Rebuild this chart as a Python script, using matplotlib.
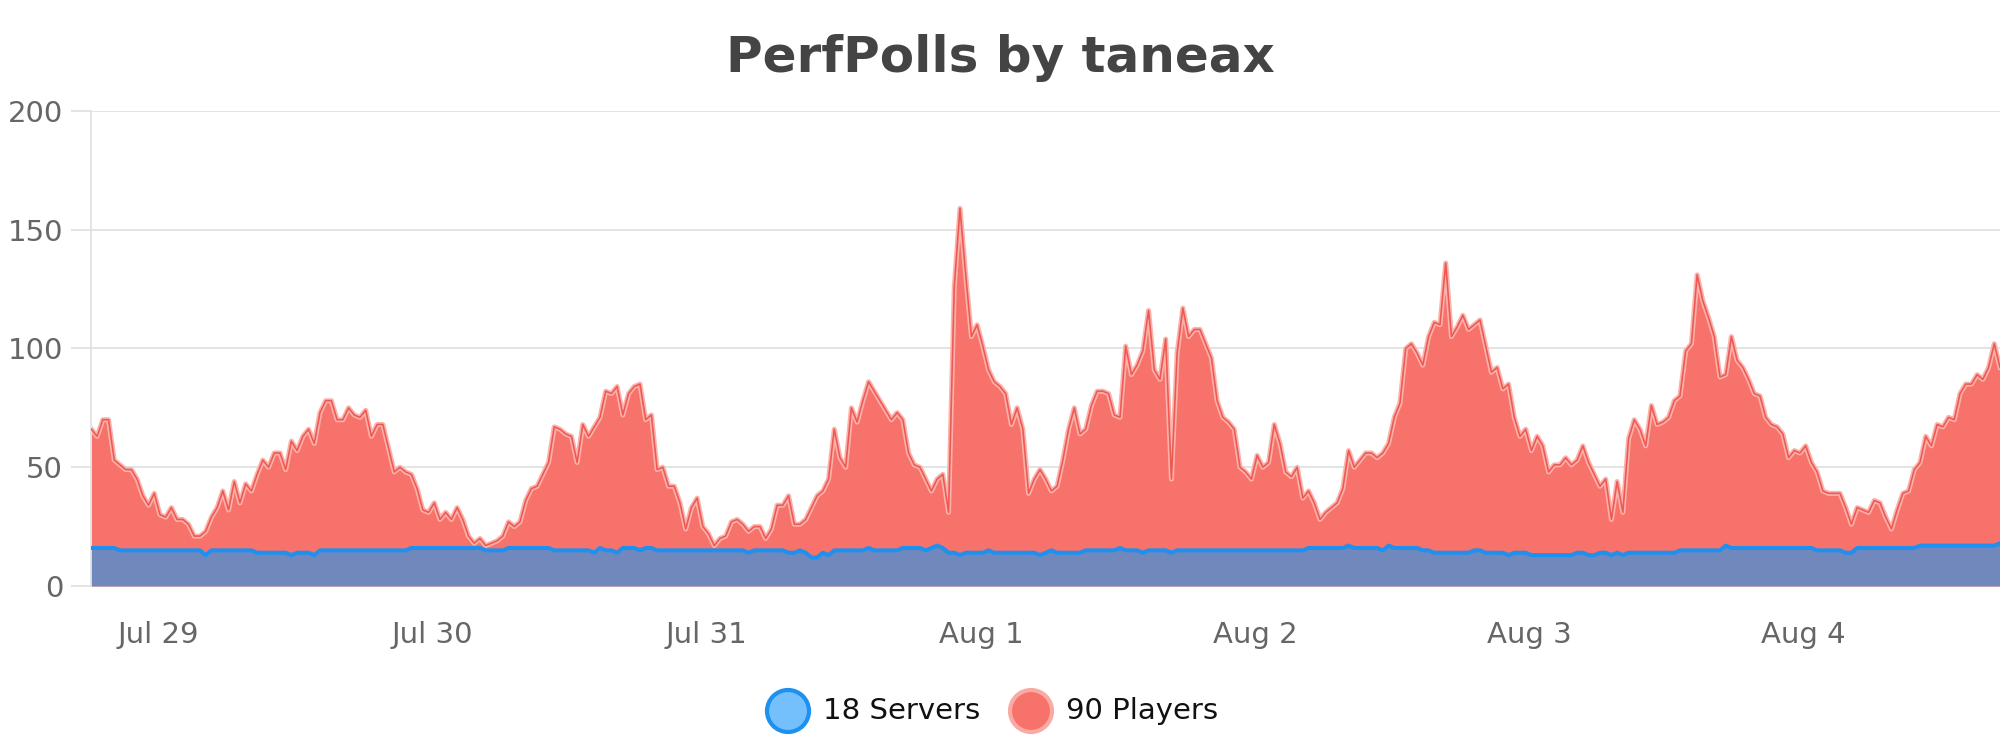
import matplotlib
matplotlib.use("Agg")
import matplotlib.pyplot as plt
import matplotlib.dates as mdates
from matplotlib.patches import Ellipse
import pandas as pd

title = "PerfPolls by taneax"
start_time = "2019-07-28 18:10"
step = "30min"

players = [
    66, 63, 70, 70, 53, 51, 49, 49, 45, 38, 34, 39, 30, 29, 33, 28, 28, 26, 21, 21,
    23, 29, 33, 40, 32, 44, 35, 43, 40, 47, 53, 50, 56, 56, 49, 61, 57, 63, 66, 60,
    73, 78, 78, 70, 70, 75, 72, 71, 74,
    63, 68, 68, 58, 48, 50, 48, 47, 41, 32, 31, 35, 28, 31, 28, 33, 28, 21, 18, 20,
    17, 18, 19, 21, 27, 25, 27, 36, 41, 42, 47, 52, 67, 66, 64, 63, 52, 68, 63, 67,
    71, 82, 81, 84, 72, 81, 84, 85, 70,
    72, 49, 50, 42, 42, 35, 24, 33, 37, 25, 22, 17, 20, 21, 27, 28, 26, 23, 25, 25,
    20, 24, 34, 34, 38, 26, 26, 28, 33, 38, 40, 45, 66, 54, 50, 75, 69, 78, 86, 82,
    78, 74, 70, 73, 70, 56, 51, 50,
    45, 40, 45, 47, 31, 126, 159, 131, 105, 110, 101, 91, 86, 84, 81, 68, 75, 66, 39, 45,
    49, 45, 40, 42, 53, 66, 75, 64, 66, 76, 82, 82, 81, 72, 71, 101, 89, 93, 99, 116,
    91, 87, 104, 45, 98, 117, 105, 108,
    108, 102, 96, 78, 71, 69, 66, 50, 48, 45, 55, 50, 52, 68, 60, 48, 46, 50, 37, 40,
    35, 28, 31, 33, 35, 41, 57, 50, 53, 56, 56, 54, 56, 60, 71, 77, 100, 102, 98, 93,
    105, 111, 110, 136, 105, 109, 114, 108, 110,
    112, 101, 90, 92, 83, 85, 71, 63, 66, 57, 63, 59, 48, 51, 51, 54, 51, 53, 59, 52,
    47, 42, 45, 28, 44, 31, 62, 70, 66, 59, 76, 68, 69, 71, 78, 80, 99, 102, 131, 120,
    113, 105, 88, 89, 105, 95, 92, 87,
    81, 80, 71, 68, 67, 64, 54, 57, 56, 59, 52, 48, 40, 39, 39, 39, 33, 26, 33, 32,
    31, 36, 35, 29, 24, 32, 39, 40, 49, 52, 63, 59, 68, 67, 71, 70, 81, 85, 85, 89,
    87, 92, 102, 92,
]

servers = [
    16, 16, 16, 16, 16, 15, 15, 15, 15, 15,
    15, 15, 15, 15, 15, 15, 15, 15, 15, 15,
    13, 15, 15, 15, 15, 15, 15, 15, 15, 14,
    14, 14, 14, 14, 14, 13, 14, 14, 14, 13,
    15, 15, 15, 15, 15, 15, 15, 15, 15, 15,
    15, 15, 15, 15, 15, 15, 16, 16, 16, 16,
    16, 16, 16, 16, 16, 16, 16, 16, 16, 15,
    15, 15, 15, 16, 16, 16, 16, 16, 16, 16,
    16, 15, 15, 15, 15, 15, 15, 15, 14, 16,
    15, 15, 14, 16, 16, 16, 15, 16, 16, 15,
    15, 15, 15, 15, 15, 15, 15, 15, 15, 15,
    15, 15, 15, 15, 15, 14, 15, 15, 15, 15,
    15, 15, 14, 14, 15, 14, 12, 12, 14, 13,
    15, 15, 15, 15, 15, 15, 16, 15, 15, 15,
    15, 15, 16, 16, 16, 16, 15, 16, 17, 16,
    14, 14, 13, 14, 14, 14, 14, 15, 14, 14,
    14, 14, 14, 14, 14, 14, 13, 14, 15, 14,
    14, 14, 14, 14, 15, 15, 15, 15, 15, 15,
    16, 15, 15, 15, 14, 15, 15, 15, 15, 14,
    15, 15, 15, 15, 15, 15, 15, 15, 15, 15,
    15, 15, 15, 15, 15, 15, 15, 15, 15, 15,
    15, 15, 15, 16, 16, 16, 16, 16, 16, 16,
    17, 16, 16, 16, 16, 16, 15, 17, 16, 16,
    16, 16, 16, 15, 15, 14, 14, 14, 14, 14,
    14, 14, 15, 15, 14, 14, 14, 14, 13, 14,
    14, 14, 13, 13, 13, 13, 13, 13, 13, 13,
    14, 14, 13, 13, 14, 14, 13, 14, 13, 14,
    14, 14, 14, 14, 14, 14, 14, 14, 15, 15,
    15, 15, 15, 15, 15, 15, 17, 16, 16, 16,
    16, 16, 16, 16, 16, 16, 16, 16, 16, 16,
    16, 16, 15, 15, 15, 15, 15, 14, 14, 16,
    16, 16, 16, 16, 16, 16, 16, 16, 16, 16,
    17, 17, 17, 17, 17, 17, 17, 17, 17, 17,
    17, 17, 17, 17, 18,
]

y_ticks = [0, 50, 100, 150, 200]
legend_labels = ["18 Servers", "90 Players"]

times = pd.date_range(start=start_time, periods=len(players), freq=step)

plt.rcParams["font.family"] = ["DejaVu Sans"]

fig = plt.figure(figsize=(20, 7.5), dpi=100)
ax = fig.add_axes([0.0457, 0.2187, 0.9543, 0.6333])

red_fill = "#f7726a"
red_line = "#ee5a52"
red_halo = "#fbb2ad"
blue_fill = "#7088bb"
blue_line = "#1e90f0"

ax.fill_between(times, 0, players, color=red_fill, linewidth=0, zorder=2)
ax.plot(times, players, color=red_halo, lw=3.6, zorder=2.5, solid_joinstyle="round")
ax.plot(times, players, color=red_line, lw=1.2, zorder=2.6, solid_joinstyle="round")
ax.fill_between(times, 0, servers, color=blue_fill, linewidth=0, zorder=3)
ax.plot(times, servers, color=blue_line, lw=2.9, zorder=4, solid_joinstyle="round")

ax.set_xlim(times[0], times[-1])
ax.set_ylim(0, 200)
ax.set_yticks(y_ticks)
ax.yaxis.grid(True, color="#e2e2e2", lw=1.3, zorder=0)
ax.set_axisbelow(True)

ax.xaxis.set_major_locator(mdates.DayLocator())
ax.xaxis.set_major_formatter(mdates.DateFormatter("%b %-d"))

ax.tick_params(axis="y", length=14.4, width=1.3, color="#e2e2e2",
               labelsize=21, labelcolor="#666666", pad=6)
ax.tick_params(axis="x", length=0, labelsize=21, labelcolor="#666666", pad=25)

for s in ["top", "right", "bottom"]:
    ax.spines[s].set_visible(False)
ax.spines["left"].set_color("#e0e0e0")
ax.spines["left"].set_linewidth(1.2)

fig.text(0.5, 1 - 72 / 750, title, ha="center", va="baseline",
         fontsize=36, fontweight="bold", color="#444444")

# legend
ly = 1 - 711 / 750
d = 42
fig.add_artist(Ellipse((788 / 2000, ly), d / 2000, d / 750, transform=fig.transFigure,
                       facecolor="#74c0fc", edgecolor=blue_line, lw=3.0))
fig.text(823 / 2000, ly, legend_labels[0], ha="left", va="center", fontsize=21, color="#111111")
fig.add_artist(Ellipse((1031 / 2000, ly), d / 2000, d / 750, transform=fig.transFigure,
                       facecolor=red_fill, edgecolor="#f9aaa5", lw=3.0))
fig.text(1066 / 2000, ly, legend_labels[1], ha="left", va="center", fontsize=21, color="#111111")

fig.savefig("out.png", dpi=100)
